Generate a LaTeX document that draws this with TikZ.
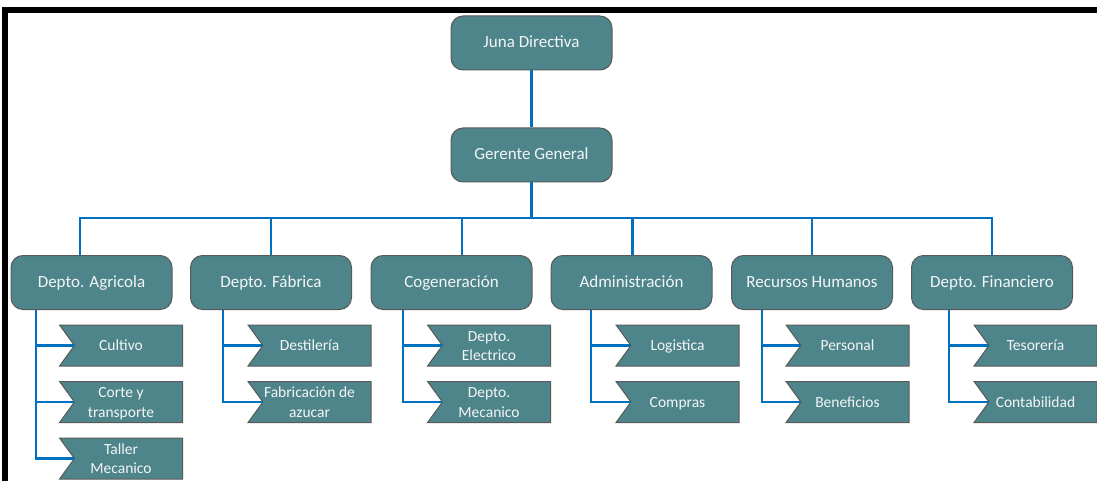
\documentclass[tikz,border=0pt]{standalone}
\usepackage{fontspec}
\setmainfont{Carlito}
\usetikzlibrary{shapes.symbols,positioning}
\definecolor{boxteal}{HTML}{4E858B}
\definecolor{boxedge}{HTML}{595959}
\definecolor{linkblue}{HTML}{0070C0}
\definecolor{boxtext}{HTML}{F4F6F6}
\newcommand{\utext}[1]{\renewcommand{\arraystretch}{1.05}\raisebox{-1.5pt}[\height][\depth]{\begin{tabular}{@{}c@{\hspace{15pt}}}#1\end{tabular}}}
\tikzset{
	head/.style={draw=boxedge, line width=1pt, fill=boxteal, rounded corners=12pt, minimum width=161pt, minimum height=54pt, inner sep=0pt, text height=13pt, text depth=3pt, text=boxtext, font=\fontsize{17}{20}\selectfont},
	unit/.style={draw=boxedge, line width=1pt, fill=boxteal, shape=signal, signal from=west, signal to=nowhere, signal pointer angle=108, minimum width=123pt, minimum height=41pt, inner sep=0pt, text=boxtext, font=\fontsize{15.5}{19}\selectfont},
	link/.style={draw=linkblue, line width=2.5pt},
}

\begin{document}
\begin{tikzpicture}[x=1pt, y=-1pt]
			%%%%% START %%%%%
			\useasboundingbox (0, 0) rectangle (1097, 481);
			
			\fill[black] (2, 7) rectangle (1097, 13);
			\fill[black] (2, 7) rectangle (7.7, 481);
			
			\node[head] (juna) at (531.5, 43) {Juna Directiva};
			\node[head] (gerente) at (531.5, 155) {Gerente General};
			\coordinate (bus) at (531.5, 218);
			
			\node[head] (agricola) at (91.5, 282.5) {Depto. Agricola};
			\node[head] (fabrica) at (271, 282.5) {Depto. Fábrica};
			\node[head] (cogen) at (451.5, 282.5) {Cogeneración};
			\node[head] (admin) at (631.5, 282.5) {Administración};
			\node[head] (rrhh) at (812, 282.5) {Recursos Humanos};
			\node[head] (finan) at (992, 282.5) {Depto. Financiero};
			
			\node[unit] (cultivo) at (128.5, 345.5) {\utext{Cultivo}};
			\node[unit] (corte) at (128.5, 402) {\utext{Corte y\\transporte}};
			\node[unit] (taller) at (128.5, 458.5) {\utext{Taller\\Mecanico}};
			
			\node[unit] (destileria) at (317, 345.5) {\utext{Destilería}};
			\node[unit] (azucar) at (317, 402) {\utext{Fabricación de\\azucar}};
			
			\node[unit] (electrico) at (496.5, 345.5) {\utext{Depto.\\Electrico}};
			\node[unit] (mecanico) at (496.5, 402) {\utext{Depto.\\Mecanico}};
			
			\node[unit] (logistica) at (685, 345.5) {\utext{Logistica}};
			\node[unit] (compras) at (685, 402) {\utext{Compras}};
			
			\node[unit] (personal) at (855, 345.5) {\utext{Personal}};
			\node[unit] (beneficios) at (855, 402) {\utext{Beneficios}};
			
			\node[unit] (tesoreria) at (1043, 345.5) {\utext{Tesorería}};
			\node[unit] (contable) at (1043, 402) {\utext{Contabilidad}};
			
			% top chain
			\draw[link] (juna.south) -- (gerente.north);
			\draw[link] (gerente.south) -- (bus);
			\draw[link] (bus) -| ([xshift=-11.5pt]agricola.north);
			\draw[link] (bus) -| (fabrica.north);
			\draw[link] (bus) -| ([xshift=10.5pt]cogen.north);
			\draw[link] (bus) -| ([xshift=1pt]admin.north);
			\draw[link] (bus) -| (rrhh.north);
			\draw[link] (bus) -| (finan.north);
			
			% branches
			\draw[link] ([xshift=-55.5pt]agricola.south) |- (taller.west);
			\draw[link] ([xshift=-55.5pt]agricola.south |- cultivo.west) -- (cultivo.west);
			\draw[link] ([xshift=-55.5pt]agricola.south |- corte.west) -- (corte.west);
			
			\draw[link] ([xshift=-48pt]fabrica.south) |- (azucar.west);
			\draw[link] ([xshift=-48pt]fabrica.south |- destileria.west) -- (destileria.west);
			
			\draw[link] ([xshift=-48.5pt]cogen.south) |- (mecanico.west);
			\draw[link] ([xshift=-48.5pt]cogen.south |- electrico.west) -- (electrico.west);
			
			\draw[link] ([xshift=-40.5pt]admin.south) |- (compras.west);
			\draw[link] ([xshift=-40.5pt]admin.south |- logistica.west) -- (logistica.west);
			
			\draw[link] ([xshift=-50pt]rrhh.south) |- (beneficios.west);
			\draw[link] ([xshift=-50pt]rrhh.south |- personal.west) -- (personal.west);
			
			\draw[link] ([xshift=-43pt]finan.south) |- (contable.west);
			\draw[link] ([xshift=-43pt]finan.south |- tesoreria.west) -- (tesoreria.west);
			
			%%%%% END %%%%%
\end{tikzpicture}
\end{document}
